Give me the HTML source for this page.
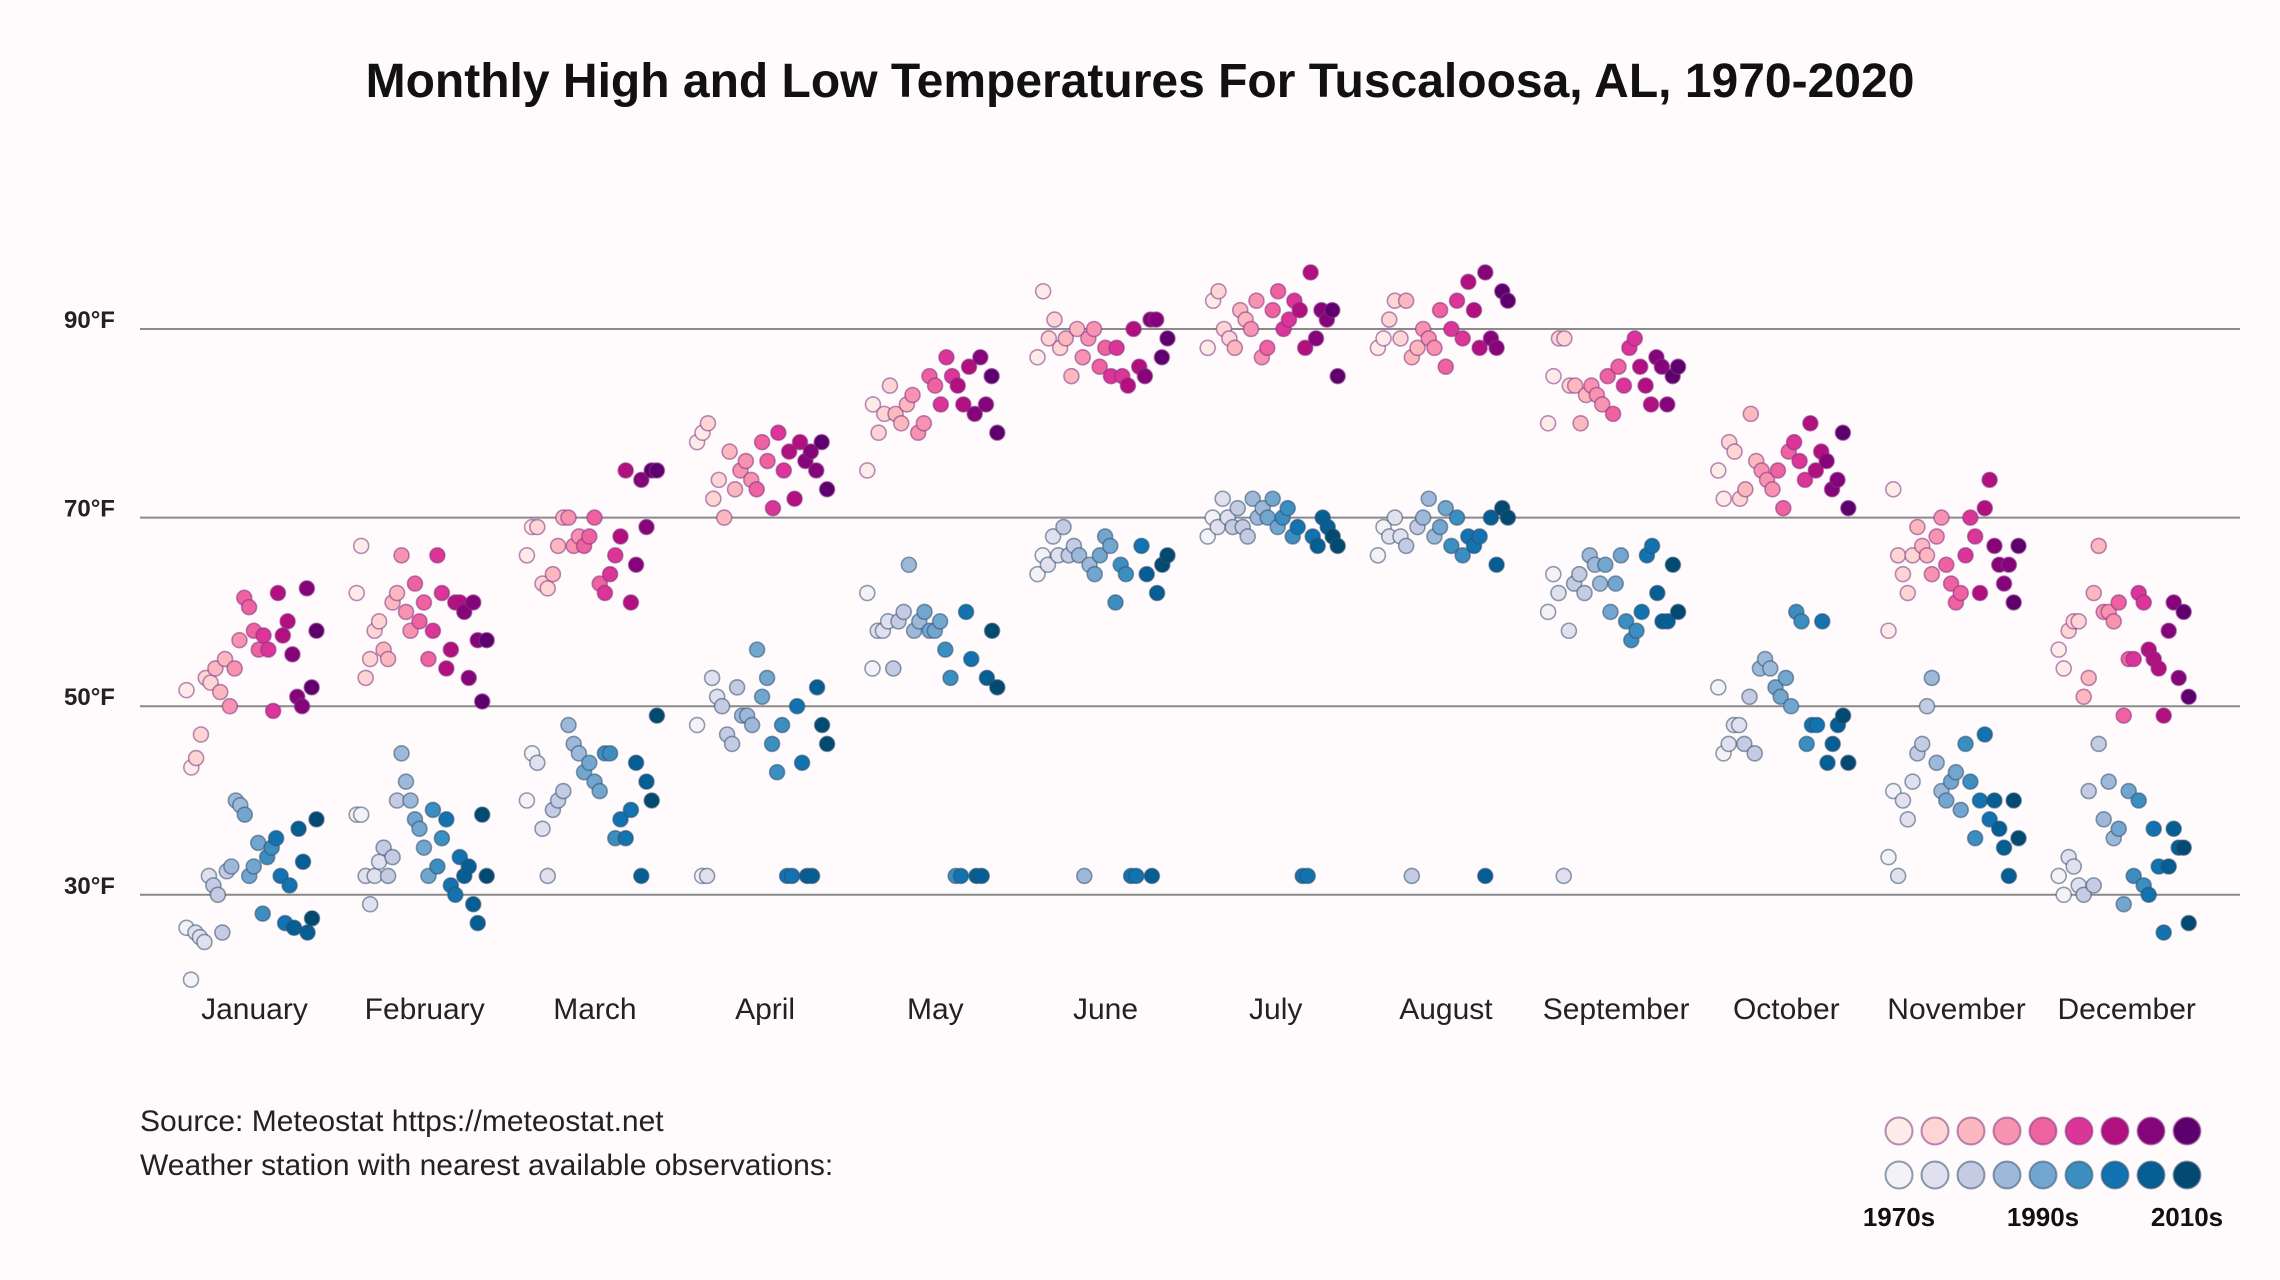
<!DOCTYPE html>
<html><head><meta charset="utf-8"><style>
html,body{margin:0;padding:0;background:#fffbfc;}
svg{display:block;font-family:"Liberation Sans",sans-serif;}
</style></head><body>
<svg id="chart" width="2280" height="1280" viewBox="0 0 2280 1280">
<rect width="2280" height="1280" fill="#fffbfc"/>
<text x="1140" y="97" text-anchor="middle" font-size="48" font-weight="bold" fill="#111">Monthly High and Low Temperatures For Tuscaloosa, AL, 1970-2020</text>
<g id="grid"></g>
<g id="ylabels"></g>
<g id="xlabels"></g>
<g id="lows"></g>
<g id="highs"></g>
<text x="140" y="1131" font-size="30" fill="#222">Source: Meteostat https://meteostat.net</text>
<text x="140" y="1175" font-size="30" fill="#222">Weather station with nearest available observations:</text>
<g id="legend"></g>
</svg>
<script>
const months = ["January","February","March","April","May","June","July","August","September","October","November","December"];
const yTicks = [30,50,70,90];
const tickLabels = ["30°F","50°F","70°F","90°F"];
const legendLabels = ["1970s","1990s","2010s"];
const highJan=[51.7,43.5,44.5,47,53,52.5,54,51.5,55,50,54,57,61.5,60.5,58,56,57.5,56,49.5,62,57.5,59,55.5,51,50,62.5,52,58];
const lowJan=[26.5,21,26,25.5,25,32,31,30,26,32.5,33,40,39.5,38.5,32,33,35.5,28,34,35,36,32,27,31,26.5,37,33.5,26,27.5,38];
const highFeb=[62,67,53,55,58,59,56,55,61,62,66,60,58,63,59,61,55,58,66,62,54,56,61,61,60,53,61,57,50.5,57];
const lowFeb=[38.5,38.5,32,29,32,33.5,35,32,34,40,45,42,40,38,37,35,32,39,33,36,38,31,30,34,32,33,29,27,38.5,32];
const highMar=[66,69,69,63,62.5,64,67,70,70,67,68,67,68,70,63,62,64,66,68,75,61,65,74,69,75,75];
const lowMar=[40,45,44,37,32,39,40,41,48,46,45,43,44,42,41,45,45,36,38,36,39,44,32,42,40,49];
const highApr=[78,79,80,72,74,70,77,73,75,76,74,73,78,76,71,79,75,77,72,78,76,77,75,78,73];
const lowApr=[48,32,32,53,51,50,47,46,52,49,49,48,56,51,53,46,43,48,32,32,50,44,32,32,52,48,46];
const highMay=[75,82,79,81,84,81,80,82,83,79,80,85,84,82,87,85,84,82,86,81,87,82,85,79];
const lowMay=[62,54,58,58,59,54,59,60,65,58,59,60,58,58,59,56,53,32,32,60,55,32,32,53,58,52];
const highJun=[87,94,89,91,88,89,85,90,87,89,90,86,88,85,88,85,84,90,86,85,91,91,87,89];
const lowJun=[64,66,65,68,66,69,66,67,66,32,65,64,66,68,67,61,65,64,32,32,67,64,32,62,65,66];
const highJul=[88,93,94,90,89,88,92,91,90,93,87,88,92,94,90,91,93,92,88,96,89,92,91,92,85];
const lowJul=[68,70,69,72,70,69,71,69,68,72,70,71,70,72,69,70,71,68,69,32,32,68,67,70,69,68,67];
const highAug=[88,89,91,93,89,93,87,88,90,89,88,92,86,90,93,89,95,92,88,96,89,88,94,93];
const lowAug=[66,69,68,70,68,67,32,69,70,72,68,69,71,67,70,66,68,67,68,32,70,65,71,70];
const highSep=[80,85,89,89,84,84,80,83,84,83,82,85,81,86,84,88,89,86,84,82,87,86,82,85,86];
const lowSep=[60,64,62,32,58,63,64,62,66,65,63,65,60,63,66,59,57,58,60,66,67,62,59,59,65,60];
const highOct=[75,72,78,77,72,73,81,76,75,74,73,75,71,77,78,76,74,80,75,77,76,73,74,79,71];
const lowOct=[52,45,46,48,48,46,51,45,54,55,54,52,51,53,50,60,59,46,48,48,59,44,46,48,49,44];
const highNov=[58,73,66,64,62,66,69,67,66,64,68,70,65,63,61,62,66,70,68,62,71,74,67,65,63,65,61,67];
const lowNov=[34,41,32,40,38,42,45,46,50,53,44,41,40,42,43,39,46,42,36,40,47,38,40,37,35,32,40,36];
const highDec=[56,54,58,59,59,51,53,62,67,60,60,59,61,49,55,55,62,61,56,55,54,49,58,61,53,60,51];
const lowDec=[32,30,34,33,31,30,41,31,46,38,42,36,37,29,41,32,40,31,30,37,33,26,33,37,35,35,27];
const highs=[highJan,highFeb,highMar,highApr,highMay,highJun,highJul,highAug,highSep,highOct,highNov,highDec];
const lows=[lowJan,lowFeb,lowMar,lowApr,lowMay,lowJun,lowJul,lowAug,lowSep,lowOct,lowNov,lowDec];

const pinks=["#fdebe9","#fcd5d4","#fbb8be","#f792b0","#ef62a0","#da3597","#b2107f","#86047a","#5d006e"];
const blues=["#f4f1f7","#e0e0ee","#c5cbe3","#9db8d8","#72a6cf","#3d8ec0","#1372b0","#055e94","#034a72"];
const NS="http://www.w3.org/2000/svg";
const yScale=v=>329+(90-v)*9.43;
const xCenter=i=>254.5+i*170.2;
const xLeft=140,xRight=2240;
function mk(t,a){const e=document.createElementNS(NS,t);for(const k in a)e.setAttribute(k,a[k]);return e;}

const grid=document.getElementById('grid'),yl=document.getElementById('ylabels');
yTicks.forEach((t,i)=>{
  const l=mk('line',{x1:xLeft,x2:xRight,y1:yScale(t),y2:yScale(t),stroke:'#8a8a8a','stroke-width':2});
  
  
  grid.appendChild(l);
  const tx=mk('text',{x:64,y:yScale(t)-1,'font-size':24,'font-weight':'bold',fill:'#222'});
  tx.textContent=tickLabels[i];
  
  
  yl.appendChild(tx);
});
const xl=document.getElementById('xlabels');
months.forEach((m,i)=>{
  const tx=mk('text',{x:xCenter(i),y:1019,'text-anchor':'middle','font-size':30,fill:'#222'});
  tx.textContent=m;
  
  
  xl.appendChild(tx);
});
function drawSeries(arrs,g,pal,stroke,name){
  arrs.forEach((vals,mi)=>{
    const n=vals.length;
    vals.forEach((v,j)=>{
      const f=j/(n-1);
      const c=mk('circle',{cx:xCenter(mi)-68+f*130,cy:yScale(v),r:7.5,fill:pal[Math.round(f*8)],stroke:stroke,'stroke-width':1.6});
      
      
      g.appendChild(c);
    });
  });
}
drawSeries(lows,document.getElementById('lows'),blues,'rgba(50,80,110,0.55)','low-point');
drawSeries(highs,document.getElementById('highs'),pinks,'rgba(130,50,130,0.55)','high-point');

const lg=document.getElementById('legend');
for(let k=0;k<9;k++){
  const x=1899+k*36;
  const a=mk('circle',{cx:x,cy:1131,r:13.5,fill:pinks[k],stroke:'rgba(130,50,130,0.55)','stroke-width':2});
  
  
  lg.appendChild(a);
  const b=mk('circle',{cx:x,cy:1175,r:13.5,fill:blues[k],stroke:'rgba(50,80,110,0.55)','stroke-width':2});
  
  
  lg.appendChild(b);
}
legendLabels.forEach((s,i)=>{
  const t=mk('text',{x:1899+i*144,y:1226,'text-anchor':'middle','font-size':26,'font-weight':'bold',fill:'#111'});
  t.textContent=s;
  
  
  lg.appendChild(t);
});
</script>
</body></html>
